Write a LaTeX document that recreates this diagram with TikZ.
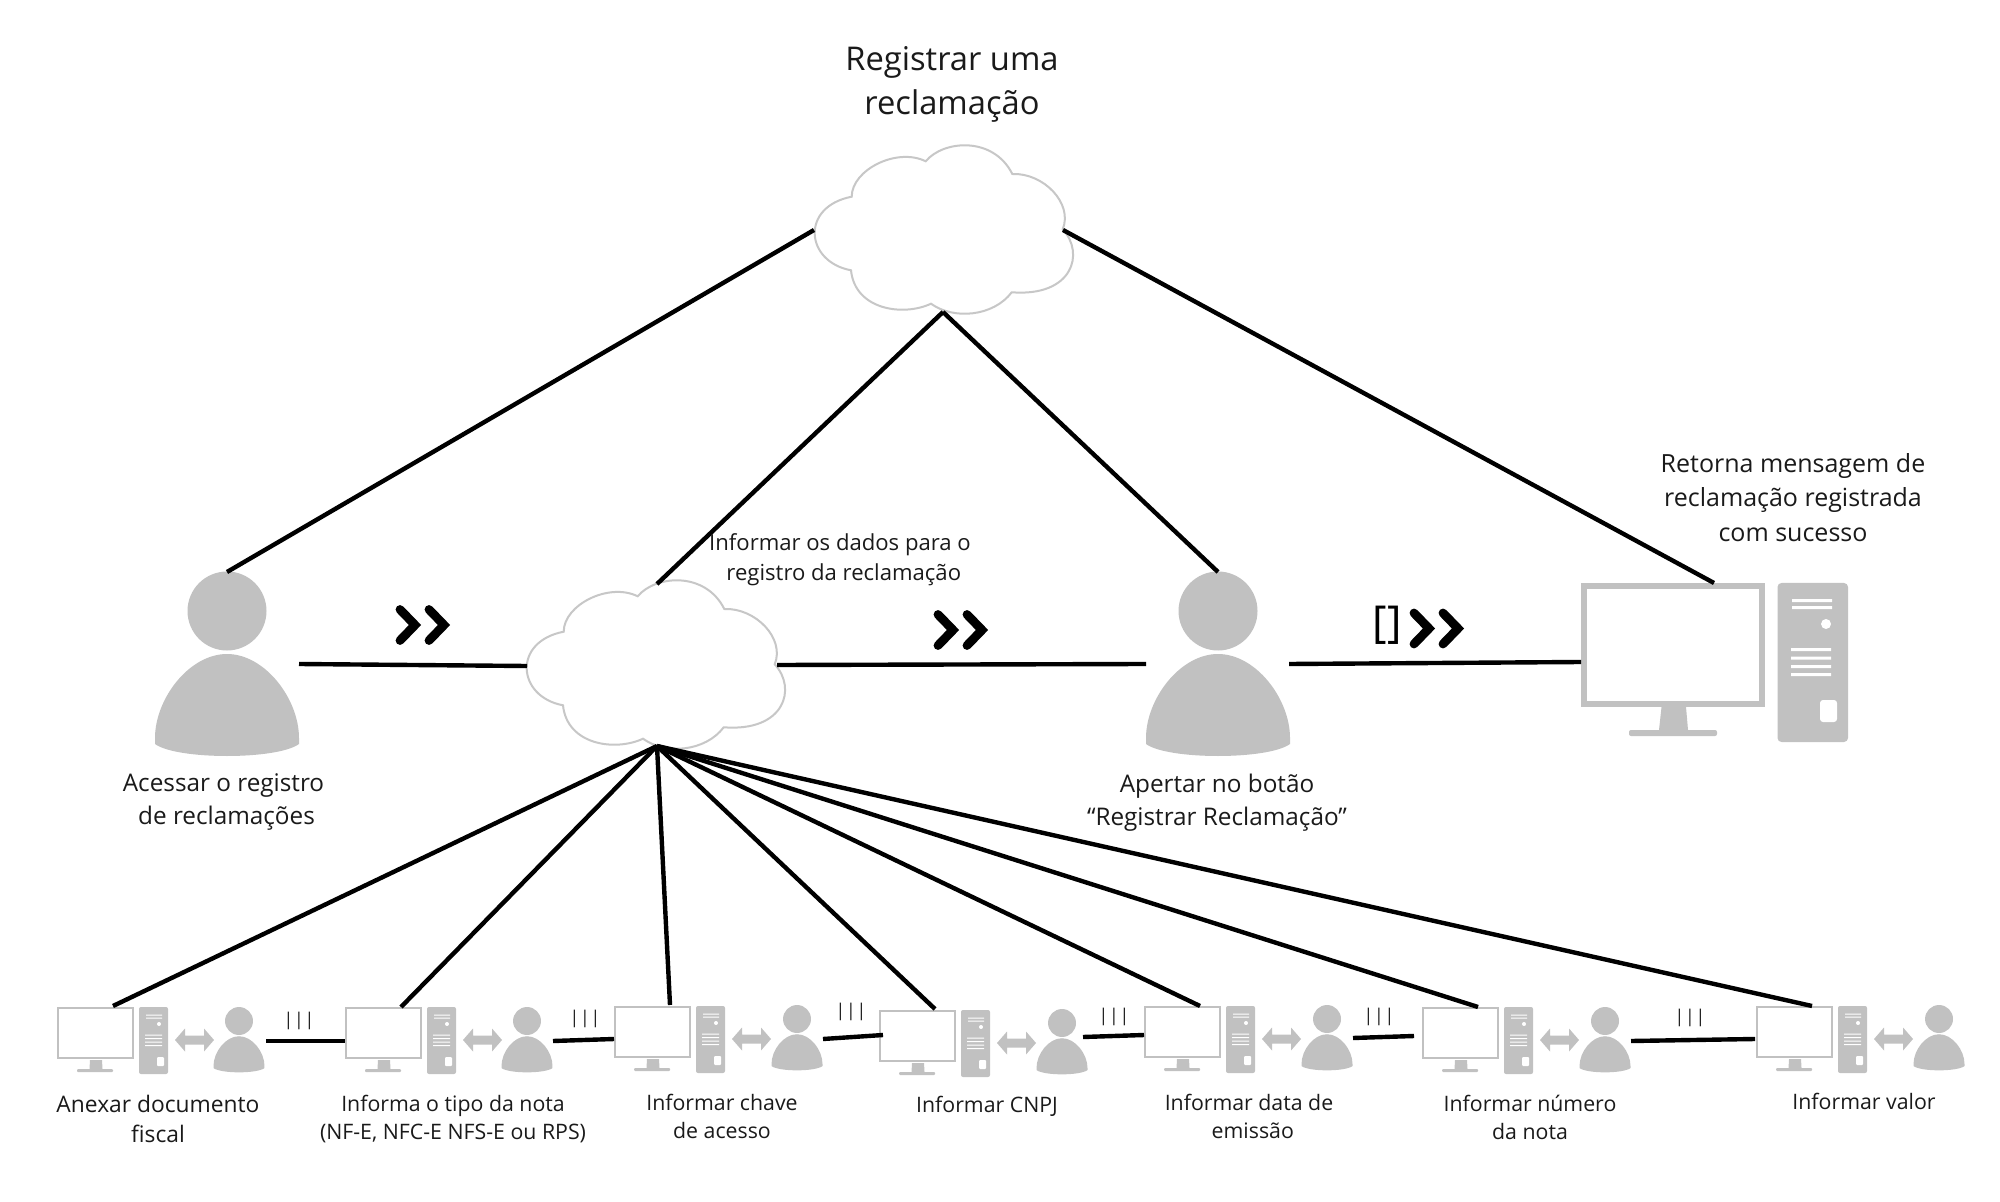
\documentclass[tikz,border=0pt]{standalone}
\usepackage{fontspec}
\setmainfont{Open Sans}
\definecolor{icon}{HTML}{C1C1C1}
\definecolor{ink}{HTML}{1A1A1A}
\tikzset{
  conn/.style={line width=2.2pt,black,line cap=butt},
  chevstroke/.style={line width=4.4pt,black,line cap=round,miter limit=10},
  lab/.style={inner sep=0pt,align=center,text=ink},
  labl/.style={lab,font=\fontsize{12.15}{16.3}\selectfont},
  labs/.style={lab,font=\fontsize{10.65}{14}\selectfont},
  bars/.style={inner sep=0pt,text=ink,font=\fontsize{8.8}{10}\selectfont},
  cloudshape/.pic={
    \path[draw=icon!90!white,line width=1pt,fill=white]
      (71.7,76.7) .. controls (71.7,50) and (116.7,27) .. (145.7,41.3)
      .. controls (163.3,20) and (213.3,16) .. (232.3,54)
      .. controls (263.3,52.7) and (293.3,83.3) .. (282.7,109.3)
      .. controls (305,133.3) and (293,177) .. (231.7,172.3)
      .. controls (213.3,196.7) and (173.3,200) .. (151,183.7)
      .. controls (123.3,196.7) and (75,190) .. (71,150.3)
      .. controls (25,141.7) and (20,86.7) .. (71.7,76.7) -- cycle;
  },
  persona/.pic={
    \fill[icon] (0,0) circle[radius=39.5];
    \fill[icon] (-72,127) .. controls (-72,88) and (-38,43) .. (0,43)
      .. controls (38,43) and (72,88) .. (72,127) -- (72,133)
      .. controls (50,149) and (-50,149) .. (-72,133) -- cycle;
  },
  monsmall/.pic={
    \node[draw=icon,line width=1pt,fill=white,inner sep=0pt,minimum width=37.5pt,minimum height=25pt] (-screen) at (38.5,26) {};
    \fill[icon] (33,53) -- (45,53) -- (45.5,62) -- (32.5,62) -- cycle;
    \fill[icon,rounded corners=.5pt] (20,62) rectangle (56,65);
    \fill[icon,rounded corners=1pt] (82,0) rectangle (111,67);
    \fill[white] (89,7.5) rectangle (105,8.5) (89,10.5) rectangle (105,11.5);
    \fill[white] (102,17) circle[radius=2];
    \fill[white] (88,27.5) rectangle (105,28.5) (88,31) rectangle (105,32)
      (88,34.5) rectangle (105,35.5) (88,38) rectangle (105,39);
    \fill[white,rounded corners=.5pt] (100,50) rectangle (107,59);
    \fill[icon] (118,33) -- (128,21.5) -- (128,28.5) -- (147,28.5) -- (147,21.5) -- (157,33)
      -- (147,44.5) -- (147,37.5) -- (128,37.5) -- (128,44.5) -- cycle;
  },
  chevrons/.pic={
    \draw[chevstroke] (4,-15.5) -- (19,0) -- (4,15.5);
    \draw[chevstroke] (33,-15.5) -- (48,0) -- (33,15.5);
  }
}
\begin{document}
\begin{tikzpicture}[x=.5pt,y=-.5pt]
\useasboundingbox (0,0) rectangle (2000,1202);
\fill[white] (0,0) rectangle (2000,1202);

% connector ends
\coordinate (c1left) at (814,230);
\coordinate (c1right) at (1063,230);
\coordinate (c1bot) at (943,312);
\coordinate (p1top) at (227,572);
\coordinate (p2top) at (1218,572);
\coordinate (c2top) at (657,584);
\coordinate (c2bot) at (657,746);
\coordinate (montop) at (1714,583);
\coordinate (p1right) at (299,664);
\coordinate (c2left) at (527,666);
\coordinate (c2right) at (777,665);
\coordinate (p2left) at (1146,664);
\coordinate (p2right) at (1289,664);
\coordinate (monleft) at (1581,662);
\coordinate (f1) at (113,1006);
\coordinate (f2) at (401,1007);
\coordinate (f3) at (670,1005);
\coordinate (f4) at (935,1009);
\coordinate (f5) at (1200,1006);
\coordinate (f6) at (1478,1007);
\coordinate (f7) at (1812,1006);
\coordinate (a1) at (266,1041); \coordinate (b1) at (345,1041);
\coordinate (a2) at (553,1041); \coordinate (b2) at (614,1039);
\coordinate (a3) at (823,1039); \coordinate (b3) at (883,1035);
\coordinate (a4) at (1083,1037); \coordinate (b4) at (1144,1035);
\coordinate (a5) at (1353,1038); \coordinate (b5) at (1414,1036);
\coordinate (a6) at (1631,1041); \coordinate (b6) at (1755,1039);

% clouds
\pic (cloudtop) at (780,120) {cloudshape};
\pic (cloudmid) at (492,555) {cloudshape};

% big figures
\pic (pa) at (227,611) {persona};
\pic (pb) at (1218,611) {persona};

% big monitor
\node[draw=icon,line width=3pt,fill=white,inner sep=0pt,minimum width=89pt,minimum height=59pt] (bigscreen) at (1673,645) {};
\fill[icon] (1661.5,707) -- (1686,707) -- (1688,730) -- (1659,730) -- cycle;
\fill[icon,rounded corners=1pt] (1629,730) rectangle (1717,736);
\fill[icon,rounded corners=2pt] (1777.5,583) rectangle (1848,742);
\fill[white] (1792,599) rectangle (1832,602) (1792,606) rectangle (1832,609);
\fill[white] (1826,624) circle[radius=5];
\fill[white] (1791,648) rectangle (1831,651) (1791,656.5) rectangle (1831,659.5)
  (1791,665) rectangle (1831,668) (1791,673) rectangle (1831,676);
\fill[white,rounded corners=1.5pt] (1820,700) rectangle (1837,722);

% bottom row
\pic (ga) at (57,1007) {monsmall};
\pic[scale=.354] (ha) at (239,1021) {persona};
\pic (gb) at (345,1007) {monsmall};
\pic[scale=.354] (hb) at (527,1021) {persona};
\pic (gc) at (614,1006) {monsmall};
\pic[scale=.354] (hc) at (797,1019) {persona};
\pic (gd) at (879,1010) {monsmall};
\pic[scale=.354] (hd) at (1062,1023) {persona};
\pic (ge) at (1144,1006) {monsmall};
\pic[scale=.354] (he) at (1327,1019) {persona};
\pic (gf) at (1422,1007) {monsmall};
\pic[scale=.354] (hf) at (1605,1021) {persona};
\pic (gg) at (1756,1006) {monsmall};
\pic[scale=.354] (hg) at (1939,1019) {persona};

% connectors
\draw[conn] (c1left) -- (p1top);
\draw[conn] (c1right) -- (montop);
\draw[conn] (c1bot) -- (c2top);
\draw[conn] (c1bot) -- (p2top);
\draw[conn] (p1right) -- (c2left);
\draw[conn] (c2right) -- (p2left);
\draw[conn] (p2right) -- (monleft);
\foreach \e in {f1,f2,f3,f4,f5,f6,f7} \draw[conn] (c2bot) -- (\e);
\draw[conn] (a1) -- (b1);
\draw[conn] (a2) -- (b2);
\draw[conn] (a3) -- (b3);
\draw[conn] (a4) -- (b4);
\draw[conn] (a5) -- (b5);
\draw[conn] (a6) -- (b6);

% operators
\pic (cha) at (396,625) {chevrons};
\pic (chb) at (934,630) {chevrons};
\pic (chc) at (1410,628.5) {chevrons};
\node[inner sep=0pt,text=black,font=\fontsize{22}{24}\selectfont] (brk) at (1387,625) {[]};
\newcommand{\tribar}{|\kern.4pt|\kern.4pt|}
\node[bars] (ba) at (299,1021) {\tribar};
\node[bars] (bb) at (585,1019) {\tribar};
\node[bars] (bc) at (851,1012) {\tribar};
\node[bars] (bd) at (1114,1017) {\tribar};
\node[bars] (be) at (1379,1017) {\tribar};
\node[bars] (bf) at (1690,1018) {\tribar};

% labels
\node[lab,font=\fontsize{16.35}{22}\selectfont] (title) at (952,84.5) {Registrar uma\\reclamação};
\node[labl] (la) at (223.5,802) {Acessar o registro\\\hspace*{.25em}de reclamações};
\node[labl] (lb) at (1217,802.5) {Apertar no botão\\“Registrar Reclamação”};
\node[lab,font=\fontsize{12.5}{17.3}\selectfont] (lc) at (1793,497.5) {Retorna mensagem de\\reclamação registrada\\com sucesso};
\node[lab,font=\fontsize{11.05}{15}\selectfont] (ld) at (840,560) {Informar os dados para o\\\hspace*{3.8pt}registro da reclamação};
\node[lab,font=\fontsize{11.4}{15}\selectfont] (s1) at (158,1118.5) {Anexar documento\\fiscal};
\node[labs] (s2) at (453,1119) {Informa o tipo da nota\\(NF-E, NFC-E NFS-E ou RPS)};
\node[labs] (s3) at (722,1116) {Informar chave\\de acesso};
\node[labs] (s4) at (987,1106) {Informar CNPJ};
\node[labs] (s5) at (1249,1116.5) {Informar data de\\\hspace*{3.8pt}emissão};
\node[labs] (s6) at (1530,1117.5) {Informar número\\da nota};
\node[labs] (s7) at (1864,1101) {Informar valor};
\end{tikzpicture}
\end{document}
